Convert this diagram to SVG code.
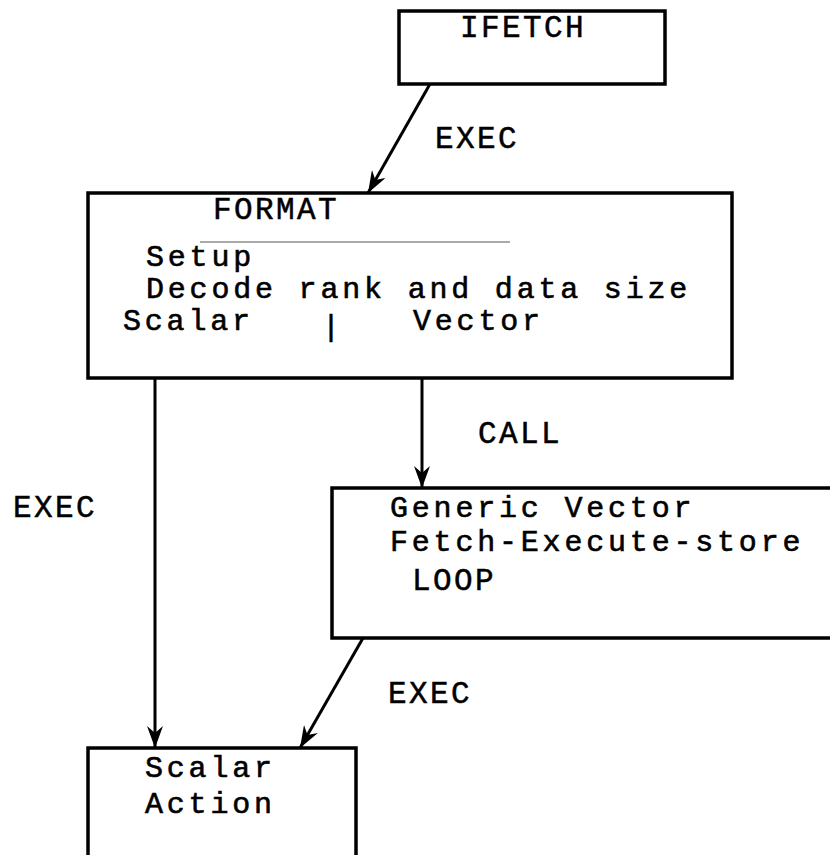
<svg xmlns="http://www.w3.org/2000/svg" width="830" height="855" viewBox="0 0 830 855">
<defs>
<style>
.box{fill:none;stroke:#000;stroke-width:3.5}
.edge{fill:none;stroke:#000;stroke-width:3}
.t{font-family:"Liberation Mono","DejaVu Sans Mono",monospace;font-size:30px;letter-spacing:3.8px;fill:#000;stroke:#000;stroke-width:0.6}
.lab{font-family:"Liberation Mono","DejaVu Sans Mono",monospace;font-size:31px;letter-spacing:2.4px;fill:#000;stroke:#000;stroke-width:0.5}
</style>
<marker id="arr" viewBox="0 0 22 16" refX="22" refY="8" markerWidth="22" markerHeight="16" markerUnits="userSpaceOnUse" orient="auto">
<path d="M0,0 L22,8 L0,16 L7,8 Z" fill="#000"/>
</marker>
</defs>
<rect width="830" height="855" fill="#fff"/>

<g id="ifetch">
<rect class="box" x="399" y="11" width="266" height="73"/>
<text class="lab" x="460" y="37">IFETCH</text>
</g>

<g id="format">
<rect class="box" x="88" y="193" width="644" height="185"/>
<text class="lab" x="213" y="219">FORMAT</text>
<line x1="200" y1="242" x2="510" y2="242" stroke="#555" stroke-width="1"/>
<text class="t" x="146" y="266">Setup</text>
<text class="t" x="146" y="298">Decode rank and data size</text>
<text class="t" x="123" y="330">Scalar</text>
<text class="t" x="322" y="336">|</text>
<text class="t" x="413" y="330">Vector</text>
</g>

<g id="generic">
<rect class="box" x="332" y="488" width="520" height="150"/>
<text class="t" x="390" y="517">Generic Vector</text>
<text class="t" x="390" y="551">Fetch-Execute-store</text>
<text class="lab" x="412" y="590">LOOP</text>
</g>

<g id="scalar">
<rect class="box" x="88" y="748" width="268" height="130"/>
<text class="t" x="145" y="777">Scalar</text>
<text class="t" x="145" y="813">Action</text>
</g>

<g id="connectors">
<line class="edge" x1="430" y1="84" x2="368" y2="193" marker-end="url(#arr)"/>
<line class="edge" x1="155" y1="378" x2="155" y2="748" marker-end="url(#arr)"/>
<line class="edge" x1="422" y1="378" x2="422" y2="488" marker-end="url(#arr)"/>
<line class="edge" x1="363" y1="638" x2="300" y2="748" marker-end="url(#arr)"/>
<text class="lab" x="435" y="148">EXEC</text>
<text class="lab" x="13" y="517">EXEC</text>
<text class="lab" x="478" y="443">CALL</text>
<text class="lab" x="388" y="703">EXEC</text>
</g>
</svg>
